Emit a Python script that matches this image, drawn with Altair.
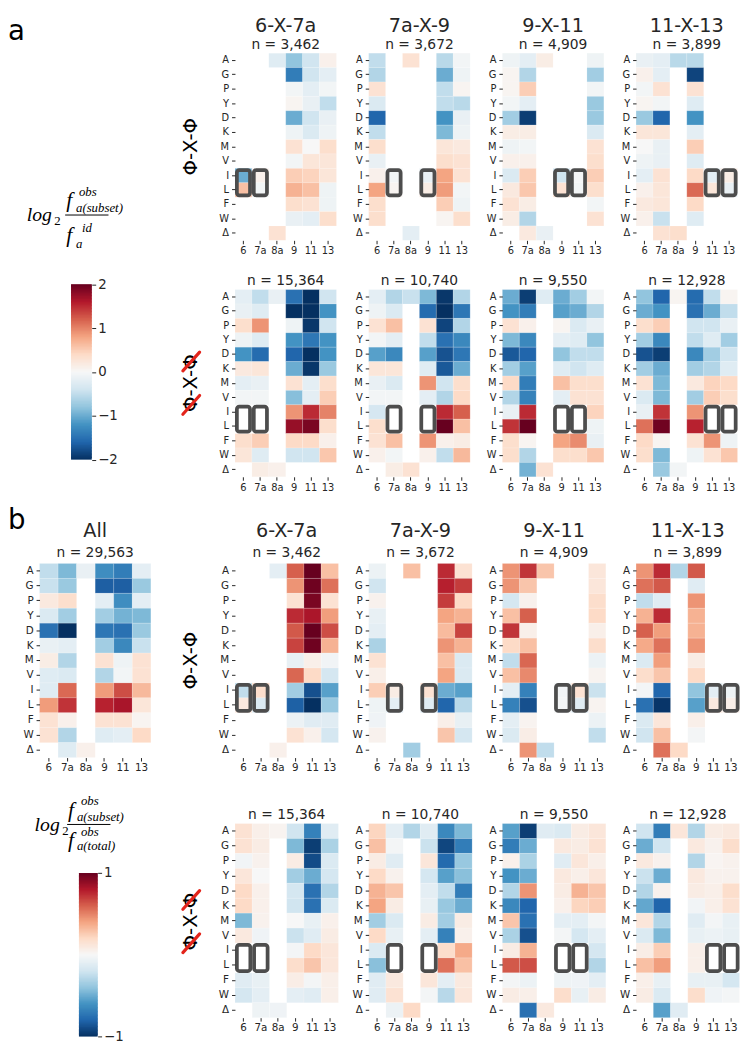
import altair as alt
import pandas as pd

N = None
ROWS = ["A", "G", "P", "Y", "D", "K", "M", "V", "I", "L", "F", "W", "Δ"]
COLS = ["6", "7a", "8a", "9", "11", "13"]
MOTIFS = ["6-X-7a", "7a-X-9", "9-X-11", "11-X-13"]
BOX_COLS = [["6", "7a"], ["7a", "9"], ["9", "11"], ["11", "13"]]
BOX_ROWS = ["I", "L"]
N_PHI = ["3,462", "3,672", "4,909", "3,899"]
N_NOPHI = ["15,364", "10,740", "9,550", "12,928"]
N_ALL = "29,563"
SCALE_A = [-2, 2]
SCALE_B = [-1, 1]
TICKS_A = [-2, -1, 0, 1, 2]
TICKS_B = [-1, 0, 1]
# RdBu_r colormap stops (blue -> white -> red)
RDBU_R = ["#053061", "#2166ac", "#4393c3", "#92c5de", "#d1e5f0", "#f7f7f7",
          "#fddbc7", "#f4a582", "#d6604d", "#b2182b", "#67001f"]

# ---- panel a, Phi-X-Phi (log2 obs/id) ----
a1_6X7a = [
    [N, N, -0.25, -0.8, -0.4, 0.1], [N, N, N, -1.4, -0.4, -0.2], [N, N, N, -0.05, -0.2, -0.05],
    [N, N, N, 0.05, -0.15, -0.5], [N, N, N, -1.0, -0.4, -0.15], [N, N, N, -0.1, -0.3, -0.1],
    [N, N, N, 0.3, 0.0, 0.35], [N, N, N, -0.05, 0.25, 0.25], [-1.0, 0.1, N, 0.5, 0.45, 0.25],
    [0.6, -0.05, N, 0.7, 0.6, -0.1], [N, N, N, 0.35, 0.3, -0.1], [N, N, N, -0.15, -0.2, 0.35],
    [N, N, 0.3, N, N, N]]
a1_7aX9 = [
    [-0.5, N, 0.3, N, -0.55, -0.05], [-0.6, N, N, N, -1.0, -0.1], [0.3, N, N, N, -0.5, 0.05],
    [-0.3, N, N, N, -0.5, -0.55], [-1.6, N, N, N, -1.2, -0.15], [-0.5, N, N, N, -0.9, -0.1],
    [0.35, N, N, N, 0.25, 0.2], [-0.15, N, N, N, 0.35, 0.3], [0.1, -0.05, N, -0.15, 0.8, 0.3],
    [0.8, 0.05, N, 0.15, 0.85, -0.05], [0.35, N, N, N, 0.5, -0.1], [0.35, N, N, N, 0.05, 0.35],
    [N, N, -0.2, N, N, N]]
a1_9X11 = [
    [-0.1, -0.2, 0.15, N, N, -0.1], [0.05, -0.6, N, N, N, -0.7], [0.05, 0.5, N, N, N, -0.05],
    [-0.05, -0.2, N, N, N, -0.75], [-0.7, -1.9, N, N, N, -0.75], [0.15, 0.15, N, N, N, -0.3],
    [-0.1, -0.05, N, N, N, 0.3], [0.1, 0.1, N, N, N, 0.35], [-0.3, 0.5, N, -0.4, -0.02, 0.5],
    [0.2, 0.55, N, 0.3, -0.05, 0.35], [0.3, 0.15, N, N, N, -0.05], [0.15, -0.6, N, N, N, 0.3],
    [N, 0.2, -0.15, N, N, N]]
a1_11X13 = [
    [-0.15, -0.2, -0.55, -0.55, N, N], [0.1, -0.2, N, -1.85, N, N], [-0.05, 0.3, N, 0.3, N, N],
    [0.05, -0.05, N, -0.25, N, N], [-0.75, -1.6, N, -1.2, N, N], [0.25, 0.25, N, -0.2, N, N],
    [0.0, -0.15, N, 0.5, N, N], [-0.1, -0.15, N, -0.25, N, N], [-0.2, 0.3, N, 0.4, -0.2, 0.15],
    [0.1, 0.25, N, 1.15, 0.25, -0.15], [0.2, 0.25, N, 0.4, N, N], [0.1, -0.45, N, -0.25, N, N],
    [N, 0.3, 0.35, N, N, N]]

# ---- panel a, not Phi-X-Phi ----
a2_6X7a = [
    [-0.2, -0.5, -0.15, -1.5, -2.0, -0.4], [-0.15, -0.25, N, -2.0, -2.0, -1.2], [0.35, 0.9, N, -0.1, -1.95, -0.4],
    [-0.1, -0.25, N, -1.2, -1.45, -1.2], [-1.2, -1.55, N, -1.6, -2.0, -1.2], [0.2, 0.25, N, -1.0, -1.95, -0.75],
    [-0.2, -0.15, N, 0.3, -0.2, 0.35], [-0.05, -0.05, N, -0.85, -0.2, 0.5], [N, N, N, 0.9, 1.5, 1.0],
    [N, N, N, 1.75, 1.9, 0.35], [0.35, 0.5, N, 0.4, 0.4, 0.1], [0.25, -0.25, N, -0.4, -0.4, 0.55],
    [N, 0.15, 0.1, N, N, N]]
a2_7aX9 = [
    [-0.2, -0.6, -0.45, -0.9, -1.95, -0.6], [-0.1, -0.3, N, -1.55, -2.0, -1.45], [0.3, 0.6, N, 0.3, -1.85, -0.6],
    [-0.05, -0.2, N, -0.5, -1.5, -1.3], [-1.1, -1.3, N, -1.1, -1.75, -1.45], [0.25, 0.25, N, -0.25, -1.7, -1.0],
    [-0.15, -0.3, N, 0.9, -0.4, 0.35], [-0.05, -0.05, N, -0.2, -0.6, 0.4], [-0.35, N, N, N, 1.5, 1.2],
    [0.35, N, N, N, 2.0, 0.6], [0.3, 0.6, N, 0.9, 0.1, 0.15], [0.1, -0.05, N, 0.1, -0.5, 0.65],
    [N, 0.15, 0.3, N, N, N]]
a2_9X11 = [
    [-1.0, -1.9, -0.25, -1.0, -0.7, -0.05], [-1.2, -1.4, N, -1.1, -1.0, -0.6], [0.3, 0.1, N, 0.05, -0.3, -0.15],
    [-0.9, -1.3, N, -0.2, -0.25, -0.8], [-1.7, -1.6, N, -0.8, -0.5, -0.5], [-0.7, -1.1, N, -0.25, -0.4, -0.25],
    [0.4, -1.4, N, 0.6, 0.35, 0.35], [-0.6, -1.35, N, -0.2, 0.3, 0.3], [-0.15, 1.5, N, N, N, 0.45],
    [1.45, 2.0, N, N, N, -0.1], [0.35, 0.05, N, 0.8, 0.95, -0.15], [0.35, -0.6, N, 0.35, 0.35, 0.55],
    [N, -0.95, 0.3, N, N, N]]
a2_11X13 = [
    [-0.8, -1.6, 0.05, -1.55, -0.5, 0.05], [-1.0, -1.2, N, -1.5, -1.0, -0.5], [0.35, 0.5, N, -0.4, -0.4, -0.15],
    [-0.7, -1.3, N, -0.5, -0.25, -0.7], [-1.75, -1.9, N, -1.3, -0.7, -0.4], [-0.7, -1.0, N, -0.7, -0.6, -0.25],
    [0.3, -0.9, N, 0.2, 0.45, 0.4], [-0.3, -0.9, N, -0.7, 0.5, 0.35], [-0.15, 1.45, N, 0.9, N, N],
    [1.1, 1.95, N, 1.55, N, N], [0.4, 0.05, N, 0.3, 0.9, -0.1], [0.35, -0.9, N, -0.1, 0.3, 0.55],
    [N, -0.75, -0.05, N, N, N]]

# ---- panel b, All (log2 obs/id) ----
all_grid = [
    [-0.5, -0.9, -0.15, -1.25, -1.4, -0.2], [-0.45, -0.75, N, -1.65, -1.65, -0.75], [0.2, 0.35, N, -0.2, -1.25, -0.2],
    [-0.3, -0.7, N, -0.7, -0.95, -0.9], [-1.5, -2.0, N, -1.45, -1.5, -0.75], [-0.15, -0.2, N, -0.7, -1.3, -0.45],
    [0.15, -0.6, N, 0.3, -0.1, 0.3], [-0.25, -0.3, N, -0.6, -0.05, 0.3], [-0.25, 1.15, N, 0.85, 1.3, 0.65],
    [0.85, 1.45, N, 1.55, 1.65, 0.25], [0.3, 0.1, N, 0.3, 0.3, 0.05], [0.3, -0.6, N, -0.25, -0.2, 0.4],
    [N, -0.25, 0.1, N, N, N]]

# ---- panel b, Phi-X-Phi (log2 subset/total) ----
b1_6X7a = [
    [N, N, -0.1, 0.6, 1.0, 0.3], [N, N, N, 0.45, 0.98, 0.55], [N, N, N, 0.15, 0.95, 0.15],
    [N, N, N, 0.75, 0.82, 0.42], [N, N, N, 0.62, 1.0, 0.65], [N, N, N, 0.68, 0.98, 0.35],
    [N, N, N, -0.08, 0.06, -0.03], [N, N, N, 0.58, 0.2, -0.18], [-0.25, 0.18, N, -0.35, -0.88, -0.55],
    [0.1, -0.15, N, -0.82, -1.0, -0.38], [N, N, N, -0.06, -0.12, -0.12], [N, N, N, 0.15, 0.05, -0.18],
    [N, N, 0.05, N, N, N]]
b1_7aX9 = [
    [-0.06, N, 0.3, N, 0.75, 0.15], [-0.2, N, N, N, 0.78, 0.7], [0.04, N, N, N, 0.7, 0.2],
    [-0.08, N, N, N, 0.4, 0.35], [-0.1, N, N, N, 0.32, 0.68], [-0.32, N, N, N, 0.45, 0.35],
    [0.15, N, N, N, 0.3, -0.15], [0.06, N, N, N, 0.4, -0.15], [0.25, 0.08, N, 0.15, -0.5, -0.55],
    [-0.05, -0.1, N, -0.12, -0.8, -0.28], [-0.04, N, N, N, 0.06, -0.08], [0.04, N, N, N, 0.28, -0.18],
    [N, N, -0.35, N, N, N]]
b1_9X11 = [
    [0.45, 0.72, 0.28, N, N, 0.12], [0.45, 0.28, N, N, N, 0.12], [-0.18, 0.04, N, N, N, 0.18],
    [0.3, 0.6, N, N, N, 0.2], [0.72, 0.06, N, N, N, 0.06], [0.2, 0.3, N, N, N, 0.18],
    [-0.25, 0.58, N, N, N, -0.06], [0.3, 0.48, N, N, N, 0.03], [-0.1, -0.68, N, -0.03, 0.15, -0.22],
    [-0.68, -0.88, N, -0.02, -0.12, 0.03], [-0.1, 0.03, N, N, N, -0.06], [-0.15, 0.07, N, N, N, -0.25],
    [N, 0.45, -0.25, N, N, N]]
b1_11X13 = [
    [0.45, 0.75, -0.3, 0.62, N, N], [0.55, 0.62, N, -0.12, N, N], [-0.25, -0.12, N, 0.45, N, N],
    [0.35, 0.75, N, 0.35, N, N], [0.6, 0.42, N, 0.35, N, N], [0.38, 0.55, N, 0.45, N, N],
    [-0.15, 0.42, N, 0.08, N, N], [0.18, 0.28, N, 0.2, N, N], [-0.02, -0.8, N, -0.4, -0.1, -0.05],
    [-0.75, -0.98, N, -0.55, 0.1, 0.06], [-0.15, 0.12, N, 0.06, N, N], [-0.2, 0.3, N, -0.02, N, N],
    [N, 0.55, 0.2, N, N, N]]

# ---- panel b, not Phi-X-Phi ----
b2_6X7a = [
    [0.15, 0.06, 0.03, -0.2, -0.68, -0.12], [0.15, 0.08, N, -0.45, -0.95, -0.32], [-0.03, 0.04, N, 0.08, -0.9, -0.15],
    [0.12, 0.0, N, -0.35, -0.5, -0.18], [0.2, 0.05, N, -0.18, -0.75, -0.3], [0.2, 0.05, N, -0.2, -0.75, -0.15],
    [-0.45, 0.04, N, 0.0, -0.08, 0.05], [0.1, -0.04, N, -0.22, -0.12, 0.08], [N, N, N, -0.02, 0.2, 0.12],
    [N, N, N, 0.18, 0.28, 0.12], [-0.12, -0.08, N, 0.07, -0.02, 0.06], [-0.18, -0.1, N, -0.1, -0.12, 0.06],
    [N, -0.05, -0.04, N, N, N]]
b2_7aX9 = [
    [0.22, -0.1, -0.3, -0.12, -0.65, -0.45], [0.3, -0.02, N, -0.22, -0.92, -0.7], [0.08, -0.12, N, 0.12, -0.78, -0.38],
    [0.2, 0.04, N, -0.18, -0.55, -0.42], [0.35, 0.28, N, -0.1, -0.25, -0.7], [0.4, 0.08, N, -0.08, -0.38, -0.5],
    [-0.35, -0.15, N, 0.08, -0.35, 0.08], [0.2, -0.08, N, -0.1, -0.68, 0.05], [-0.15, N, N, N, 0.18, 0.38],
    [-0.42, N, N, N, 0.55, 0.3], [-0.12, 0.1, N, 0.12, -0.1, 0.1], [-0.12, 0.15, N, -0.02, -0.28, 0.12],
    [N, -0.06, 0.2, N, N, N]]
b2_9X11 = [
    [-0.55, -0.95, -0.12, -0.15, 0.08, 0.12], [-0.7, -0.5, N, 0.1, 0.08, 0.15], [0.05, -0.32, N, -0.12, 0.12, 0.06],
    [-0.6, -0.5, N, 0.1, 0.06, 0.12], [-0.3, 0.45, N, 0.08, 0.35, 0.28], [-0.65, -0.8, N, 0.05, 0.22, 0.25],
    [0.28, -0.75, N, -0.1, -0.1, -0.02], [-0.32, -0.88, N, -0.02, -0.18, -0.1], [0.08, 0.35, N, N, N, -0.18],
    [0.62, 0.65, N, N, N, -0.3], [-0.02, -0.06, N, -0.05, -0.04, -0.1], [0.08, 0.06, N, 0.18, -0.08, 0.08],
    [N, -0.75, 0.1, N, N, N]]
b2_11X13 = [
    [-0.2, -0.7, 0.12, -0.3, 0.08, 0.1], [-0.5, -0.2, N, 0.1, 0.04, 0.18], [0.1, 0.04, N, -0.3, 0.02, 0.04],
    [-0.22, -0.5, N, 0.1, 0.04, 0.04], [-0.3, 0.04, N, 0.08, 0.06, 0.18], [-0.52, -0.8, N, -0.03, 0.06, 0.15],
    [0.12, -0.3, N, -0.12, -0.02, -0.08], [-0.15, -0.45, N, -0.08, -0.06, -0.08], [0.07, 0.25, N, 0.06, N, N],
    [0.3, 0.42, N, 0.06, N, N], [0.06, -0.08, N, -0.08, -0.08, -0.18], [0.08, -0.15, N, 0.18, -0.04, -0.02],
    [N, -0.55, -0.12, N, N, N]]

A_PHI = [a1_6X7a, a1_7aX9, a1_9X11, a1_11X13]
A_NOPHI = [a2_6X7a, a2_7aX9, a2_9X11, a2_11X13]
B_PHI = [b1_6X7a, b1_7aX9, b1_9X11, b1_11X13]
B_NOPHI = [b2_6X7a, b2_7aX9, b2_9X11, b2_11X13]

# ---------------- styling / layout ----------------
FONT = "DejaVu Sans"
SERIF = "Liberation Serif"
TXT = "#262626"
BOX_C = "#4d4d4d"
STRIKE_C = "#e3241b"
WA, HA = 103, 190
WB, HB = 105, 197
W_LEFT = 113          # width of the first grid column ("All" heatmap)
W_GAP_A, W_GAP_B = 23.6, 17.9
COL_SP = 30.7
GAPS = [49.7, 87.9, 66.5]
X0, Y0 = 40, 44.7     # page position of the grid origin
ONE = pd.DataFrame({"k": [0]})


def cscale(dom):
    lo, hi = dom
    k = len(RDBU_R) - 1
    stops = [lo + (hi - lo) * i / k for i in range(k + 1)]
    return alt.Scale(domain=stops, range=RDBU_R, interpolate="rgb")


def tidy(grid):
    recs = []
    for r, row in zip(ROWS, grid):
        for c, v in zip(COLS, row):
            if v is not None:
                recs.append({"aa": r, "pos": c, "v": v})
    return pd.DataFrame(recs)


def txt(t, x, y, size, font=FONT, style="normal", align="left", baseline="alphabetic",
        angle=None, color=TXT):
    props = dict(text=t, font=font, fontSize=size, fontStyle=style, align=align,
                 baseline=baseline, color=color)
    if angle is not None:
        props["angle"] = angle
    return alt.Chart(ONE).mark_text(**props).encode(x=alt.value(x), y=alt.value(y))


def rule(x1, y1, x2, y2, color=TXT, width=1.0, opacity=1.0, cap="butt"):
    return alt.Chart(ONE).mark_rule(color=color, strokeWidth=width, strokeOpacity=opacity,
                                    strokeCap=cap).encode(
        x=alt.value(x1), y=alt.value(y1), x2=alt.value(x2), y2=alt.value(y2))


def dummy(w, h):
    return alt.Chart(ONE).mark_point(opacity=0, size=1).encode(
        x=alt.value(0), y=alt.value(0)).properties(width=w, height=h)


def heatmap(grid, w, h, dom, nlabel, n_y, title=None, title_y=None, boxes=None, lab_fs=10, extra=()):
    axis_common = dict(title=None, labelFontSize=lab_fs, labelFont=FONT, labelColor=TXT,
                       tickColor=TXT, tickSize=3.5, tickWidth=1, domain=False, grid=False)
    rect = alt.Chart(tidy(grid)).mark_rect(opacity=1, stroke="white", strokeWidth=0.4,
                                           strokeOpacity=0.4).encode(
        x=alt.X("pos:O", scale=alt.Scale(domain=COLS, paddingInner=0, paddingOuter=0),
                axis=alt.Axis(labelAngle=0, labelPadding=2, **axis_common)),
        y=alt.Y("aa:O", scale=alt.Scale(domain=ROWS, paddingInner=0, paddingOuter=0),
                axis=alt.Axis(labelPadding=3, **axis_common)),
        color=alt.Color("v:Q", scale=cscale(dom), legend=None),
    )
    layers = [rect]
    if boxes:
        ix = 1.9 / (w / len(COLS))
        iy = 1.9 / (h / len(ROWS))
        r0 = ROWS.index(BOX_ROWS[0])
        r1 = ROWS.index(BOX_ROWS[-1]) + 1
        bdf = pd.DataFrame([{"x0": COLS.index(c) + ix, "x1": COLS.index(c) + 1 - ix,
                             "y0": r0 + iy, "y1": r1 - iy} for c in boxes])
        box = alt.Chart(bdf).mark_rect(fillOpacity=0, strokeOpacity=1, stroke=BOX_C, strokeWidth=3.8,
                                       cornerRadius=2.5).encode(
            x=alt.X("x0:Q", scale=alt.Scale(domain=[0, len(COLS)], nice=False, zero=False), axis=None),
            x2="x1:Q",
            y=alt.Y("y0:Q", scale=alt.Scale(domain=[0, len(ROWS)], nice=False, zero=False, reverse=True),
                    axis=None),
            y2="y1:Q",
        )
        layers.append(box)
    layers.append(alt.Chart(pd.DataFrame({"t": [nlabel]})).mark_text(
        font=FONT, fontSize=14, color=TXT, align="center", baseline="alphabetic").encode(
        text="t:N", x=alt.value(w / 2), y=alt.value(n_y)))
    if title:
        layers.append(alt.Chart(pd.DataFrame({"t": [title]})).mark_text(
            font=FONT, fontSize=19.5, color=TXT, align="center", baseline="alphabetic").encode(
            text="t:N", x=alt.value(w / 2), y=alt.value(title_y)))
    layers.extend(extra)
    return alt.layer(*layers).properties(width=w, height=h).resolve_scale(x="independent", y="independent")


def colorbar(dom, ticks, x0, x1, ytop, ybot, chart_w):
    step = (dom[1] - dom[0]) / 120
    return alt.Chart(alt.sequence(dom[0], dom[1] - step / 2, step, as_="v")).transform_calculate(
        v2=f"min(datum.v + {1.8 * step}, {dom[1]})", vc=f"datum.v + {step / 2}"
    ).mark_rect(opacity=1).encode(
        x=alt.value(x0), x2=alt.value(x1),
        y=alt.Y("v:Q", scale=alt.Scale(domain=dom, range=[ybot, ytop], nice=False, zero=False),
                axis=alt.Axis(orient="right", offset=x1 - chart_w, values=ticks, title=None, domain=False,
                              grid=False, tickSize=4, tickColor=TXT, labelColor=TXT, labelFontSize=13.5,
                              labelFont=FONT, labelPadding=2, format="d")),
        y2="v2:Q",
        color=alt.Color("vc:Q", scale=cscale(dom), legend=None),
    )


def formula(ox, oy, pieces, frac_line):
    out = []
    for t, px, py, size in pieces:
        style = "normal" if t == "2" else "italic"
        out.append(txt(t, px - ox, py - oy, size, font=SERIF, style=style, color="black"))
    lx1, lx2, ly = frac_line
    out.append(rule(lx1 - ox, ly - oy, lx2 - ox, ly - oy, color="black", width=1))
    return out


def row_label(cx, cy, struck=False):
    out = [txt("Φ-X-Φ", cx, cy, 20, align="center", baseline="middle", angle=270, color="black")]
    if struck:
        for dy in (22, -22):
            c = cy + dy
            out.append(rule(cx - 8.5, c + 9.5, cx + 8.5, c - 9.5, color=STRIKE_C, width=3.2, cap="round"))
    return out


# page y of each heatmap row top
yA1 = Y0
yA2 = yA1 + HA + GAPS[0]
yB1 = yA2 + HA + GAPS[1]
yB2 = yB1 + HB + GAPS[2]

# ---------------- left column pieces (page coords -> chart coords) ----------------
formA = [("log", 27, 215, 20), ("2", 55, 219, 13), ("f", 67, 201, 22), ("obs", 80, 189.5, 13),
         ("a(subset)", 77, 206, 13), ("f", 67, 236, 22), ("id", 83, 226, 13), ("a", 77, 242, 13)]
leftA1 = alt.layer(
    rule(8 - X0, 8 - yA1, 9 - X0, 8 - yA1, width=0.001, opacity=0),
    txt("a", 8 - X0, 31 - yA1, 28, color="black"),
    *row_label(194 - X0, 139.7 - yA1),
    *formula(X0, yA1, formA, (66, 110, 209)),
).properties(width=W_LEFT, height=HA)

leftA2 = alt.layer(
    colorbar(SCALE_A, TICKS_A, 72 - X0, 93 - X0, 279 - yA2, 457 - yA2, W_LEFT),
    *row_label(194 - X0, yA2 + HA / 2 - yA2, struck=True),
).properties(width=W_LEFT, height=HA)

formB = [("log", 35, 833, 20), ("2", 63, 837, 13), ("f", 69, 819, 22), ("obs", 82, 807, 13),
         ("a(subset)", 78, 823, 13), ("f", 69, 850, 22), ("obs", 82, 838, 13), ("a(total)", 78, 853, 13)]
leftB2 = alt.layer(
    colorbar(SCALE_B, TICKS_B, 80 - X0, 99 - X0, 876 - yB2, 1042 - yB2, W_LEFT),
    *formula(X0, yB2, formB, (68, 112, 826.7)),
    *row_label(194 - X0, HB / 2 + 1, struck=True),
).properties(width=W_LEFT, height=HB)

xSp = X0 + W_LEFT + COL_SP
spacerB1 = alt.layer(*row_label(194 - xSp, HB / 2)).properties(width=W_GAP_B, height=HB)

all_chart = heatmap(all_grid, W_LEFT, HB, SCALE_A, "n = " + N_ALL, -6.3, "All", -27.3, None, 10.5,
                    extra=[txt("b", 8 - X0, 527 - yB1, 28, color="black")])

# ---------------- assemble as one flush grid ----------------
cells = []
cells += [leftA1, dummy(W_GAP_A, HA)] + [
    heatmap(A_PHI[i], WA, HA, SCALE_A, "n = " + N_PHI[i], -4.3, MOTIFS[i], -21.1, BOX_COLS[i], 10)
    for i in range(4)]
cells += [dummy(1, GAPS[0]) for _ in range(6)]
cells += [leftA2, dummy(W_GAP_A, HA)] + [
    heatmap(A_NOPHI[i], WA, HA, SCALE_A, "n = " + N_NOPHI[i], -4.4, None, None, BOX_COLS[i], 10)
    for i in range(4)]
cells += [dummy(1, GAPS[1]) for _ in range(6)]
cells += [all_chart, spacerB1] + [
    heatmap(B_PHI[i], WB, HB, SCALE_B, "n = " + N_PHI[i], -6.3, MOTIFS[i], -27.3, BOX_COLS[i], 10.5)
    for i in range(4)]
cells += [dummy(1, GAPS[2]) for _ in range(6)]
cells += [leftB2, dummy(W_GAP_B, HB)] + [
    heatmap(B_NOPHI[i], WB, HB, SCALE_B, "n = " + N_NOPHI[i], -4.3, None, None, BOX_COLS[i], 10.5)
    for i in range(4)]

chart = alt.concat(
    *cells, columns=6, spacing={"row": 0, "column": COL_SP}, bounds="flush", align="none", padding=0
).resolve_scale(color="independent").configure(font=FONT).configure_view(strokeWidth=0)

chart.save("out.html", embed_options={"renderer": "svg", "actions": False})
